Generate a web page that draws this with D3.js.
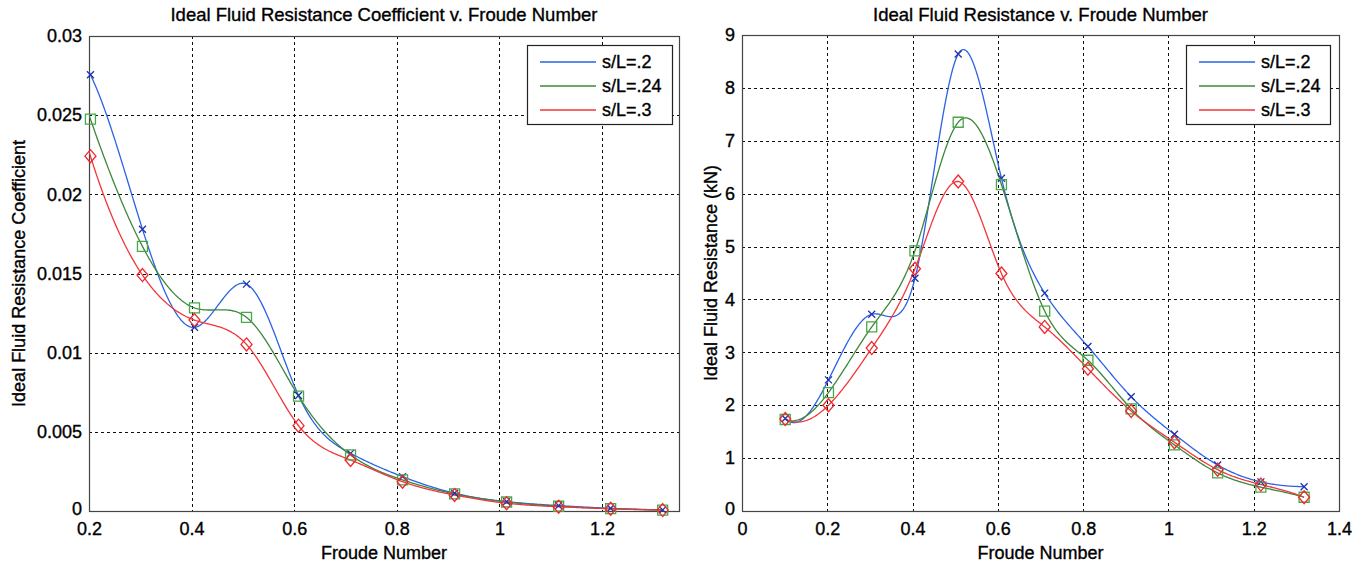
<!DOCTYPE html>
<html>
<head>
<meta charset="utf-8">
<script src="https://cdn.jsdelivr.net/npm/d3@7"></script>
<style>
  html, body { margin: 0; padding: 0; background: #fff; }
  svg { display: block; }
  text { font-family: "Liberation Sans", Arial, sans-serif; fill: #000; stroke: #000; stroke-width: 0.35px; }
</style>
</head>
<body>
<svg id="chart" width="1367" height="565"></svg>
<script>
// Froude numbers of the towing runs
const froudeCoef = [0.2028, 0.3042, 0.4056, 0.507, 0.6084, 0.7098, 0.8112, 0.9126, 1.014, 1.1154, 1.2168, 1.3182];
const froudeRes  = [0.1014, 0.2028, 0.3042, 0.4056, 0.507, 0.6084, 0.7098, 0.8112, 0.9126, 1.014, 1.1154, 1.2168, 1.3182];

// Ideal fluid resistance coefficient per spacing ratio
const coefS020 = [0.02755, 0.0178, 0.0116, 0.01433, 0.0073, 0.00364, 0.00217, 0.00112, 0.00059, 0.00034, 0.00017, 0.00007];
const coefS024 = [0.02475, 0.01671, 0.01283, 0.01223, 0.00726, 0.00354, 0.00196, 0.00108, 0.00057, 0.0003, 0.00015, 0.00006];
const coefS030 = [0.02241, 0.0149, 0.01206, 0.01052, 0.00539, 0.00322, 0.00185, 0.00101, 0.00049, 0.00027, 0.00014, 0.00006];

// Ideal fluid resistance (kN) per spacing ratio
const resS020 = [1.75, 2.48, 3.72, 4.40, 8.64, 6.29, 4.12, 3.11, 2.16, 1.45, 0.87, 0.55, 0.46];
const resS024 = [1.73, 2.24, 3.48, 4.92, 7.35, 6.17, 3.78, 2.85, 1.93, 1.25, 0.72, 0.45, 0.26];
const resS030 = [1.74, 2.00, 3.08, 4.58, 6.23, 4.49, 3.48, 2.69, 1.89, 1.30, 0.78, 0.50, 0.26];

const seriesNames = ["s/L=.2", "s/L=.24", "s/L=.3"];

// Axis ticks
const coefXTicks = [0.2, 0.4, 0.6, 0.8, 1, 1.2];
const coefYTicks = [0, 0.005, 0.01, 0.015, 0.02, 0.025, 0.03];
const resXTicks = [0, 0.2, 0.4, 0.6, 0.8, 1, 1.2, 1.4];
const resYTicks = [0, 1, 2, 3, 4, 5, 6, 7, 8, 9];

// Series styling: line colour, marker colour, marker shape
const styles = [
  { line: "#2b62e6", mark: "#1f33b0", shape: "x" },
  { line: "#3d873a", mark: "#48a848", shape: "square" },
  { line: "#f2353a", mark: "#f0282e", shape: "diamond" }
];

const FONT = 18;
const svg = d3.select("#chart");

// Not-a-knot cubic spline through (xs, ys)
function spline(xs, ys) {
  const n = xs.length;
  const h = [];
  for (let i = 0; i < n - 1; i++) h.push(xs[i + 1] - xs[i]);
  const A = Array.from({ length: n }, () => new Array(n).fill(0));
  const b = new Array(n).fill(0);
  A[0][0] = h[1]; A[0][1] = -(h[0] + h[1]); A[0][2] = h[0];
  for (let i = 1; i < n - 1; i++) {
    A[i][i - 1] = h[i - 1];
    A[i][i] = 2 * (h[i - 1] + h[i]);
    A[i][i + 1] = h[i];
    b[i] = 6 * ((ys[i + 1] - ys[i]) / h[i] - (ys[i] - ys[i - 1]) / h[i - 1]);
  }
  A[n - 1][n - 3] = h[n - 2]; A[n - 1][n - 2] = -(h[n - 3] + h[n - 2]); A[n - 1][n - 1] = h[n - 3];
  // Gaussian elimination with partial pivoting
  for (let c = 0; c < n; c++) {
    let p = c;
    for (let r = c + 1; r < n; r++) if (Math.abs(A[r][c]) > Math.abs(A[p][c])) p = r;
    [A[c], A[p]] = [A[p], A[c]]; [b[c], b[p]] = [b[p], b[c]];
    for (let r = c + 1; r < n; r++) {
      const f = A[r][c] / A[c][c];
      if (f === 0) continue;
      for (let k = c; k < n; k++) A[r][k] -= f * A[c][k];
      b[r] -= f * b[c];
    }
  }
  const M = new Array(n).fill(0);
  for (let r = n - 1; r >= 0; r--) {
    let s = b[r];
    for (let k = r + 1; k < n; k++) s -= A[r][k] * M[k];
    M[r] = s / A[r][r];
  }
  return function (x) {
    let i = 0;
    while (i < n - 2 && x > xs[i + 1]) i++;
    const hi = h[i], a = xs[i + 1] - x, d = x - xs[i];
    return M[i] * a * a * a / (6 * hi) + M[i + 1] * d * d * d / (6 * hi)
      + (ys[i] / hi - M[i] * hi / 6) * a + (ys[i + 1] / hi - M[i + 1] * hi / 6) * d;
  };
}

function markerPath(shape) {
  if (shape === "x") return "M-3.5,-3.5L3.5,3.5M-3.5,3.5L3.5,-3.5";
  if (shape === "square") return "M-5,-5H5V5H-5Z";
  return "M0,-6.5L5.5,0L0,6.5L-5.5,0Z";
}

function drawPanel(cfg) {
  const { left, right, top, bottom } = cfg.box;
  const x = d3.scaleLinear().domain(cfg.xDomain).range([left, right]);
  const y = d3.scaleLinear().domain(cfg.yDomain).range([bottom, top]);
  const g = svg.append("g");

  const clipId = "clip" + cfg.id;
  g.append("clipPath").attr("id", clipId)
    .append("rect").attr("x", left).attr("y", top)
    .attr("width", right - left).attr("height", bottom - top);

  // dashed grid
  const grid = g.append("g").attr("stroke", "#111").attr("stroke-width", 1)
    .attr("stroke-dasharray", "3,3");
  grid.selectAll(".gx").data(cfg.xTicks).join("line")
    .attr("x1", d => Math.round(x(d)) + 0.5).attr("x2", d => Math.round(x(d)) + 0.5)
    .attr("y1", top).attr("y2", bottom);
  grid.selectAll(".gy").data(cfg.yTicks).join("line")
    .attr("y1", d => Math.round(y(d)) + 0.5).attr("y2", d => Math.round(y(d)) + 0.5)
    .attr("x1", left).attr("x2", right);

  // axes
  const xAxis = d3.axisBottom(x).tickValues(cfg.xTicks).tickSize(0).tickPadding(11)
    .tickFormat(cfg.xFormat);
  const gx = g.append("g").attr("transform", `translate(0,${bottom})`).call(xAxis);
  gx.select(".domain").remove();
  gx.selectAll("text").attr("font-size", FONT).attr("font-family", "Liberation Sans, Arial, sans-serif");

  const yAxis = d3.axisLeft(y).tickValues(cfg.yTicks).tickSize(0).tickPadding(7)
    .tickFormat(cfg.yFormat);
  const gy = g.append("g").attr("transform", `translate(${left},0)`).call(yAxis);
  gy.select(".domain").remove();
  gy.selectAll("text").attr("font-size", FONT).attr("font-family", "Liberation Sans, Arial, sans-serif");
  // the bottom value label sits a little higher so it clears the x labels
  gy.selectAll(".tick").filter(d => d === 0).select("text").attr("dy", "0.2em");

  // frame
  g.append("rect").attr("x", left + 0.5).attr("y", top + 0.5)
    .attr("width", right - left).attr("height", bottom - top)
    .attr("fill", "none").attr("stroke", "#444").attr("stroke-width", 1.2);

  // interpolated curves and markers
  const line = d3.line().x(d => x(d[0])).y(d => y(d[1]));
  const plot = g.append("g").attr("clip-path", `url(#${clipId})`);
  cfg.series.forEach((ys, k) => {
    const f = spline(cfg.xs, ys);
    const x0 = cfg.curveFrom !== undefined ? cfg.curveFrom : cfg.xs[0];
    const x1 = cfg.xs[cfg.xs.length - 1];
    const pts = d3.range(0, 401).map(i => { const xv = x0 + (x1 - x0) * i / 400; return [xv, f(xv)]; });
    plot.append("path").datum(pts).attr("d", line)
      .attr("fill", "none").attr("stroke", styles[k].line).attr("stroke-width", 1.3);
  });
  cfg.series.forEach((ys, k) => {
    g.append("g").selectAll("path").data(ys).join("path")
      .attr("transform", (d, i) => `translate(${x(cfg.xs[i])},${y(d)})`)
      .attr("d", markerPath(styles[k].shape))
      .attr("fill", "none").attr("stroke", styles[k].mark).attr("stroke-width", 1.3);
  });

  // legend
  const lg = g.append("g");
  const L = cfg.legend;
  lg.append("rect").attr("x", L.x + 0.5).attr("y", L.y + 0.5).attr("width", L.w).attr("height", L.h)
    .attr("fill", "#fff").attr("stroke", "#222").attr("stroke-width", 1.2);
  seriesNames.forEach((name, k) => {
    const ry = L.y + 17 + k * 24;
    lg.append("line").attr("x1", L.x + 13).attr("x2", L.x + 69).attr("y1", ry).attr("y2", ry)
      .attr("stroke", styles[k].line).attr("stroke-width", 1.3);
    lg.append("text").attr("x", L.x + 75).attr("y", ry).attr("dy", "0.36em")
      .attr("font-size", FONT).text(name);
  });

  // titles
  g.append("text").attr("x", (left + right) / 2).attr("y", 21).attr("text-anchor", "middle")
    .attr("font-size", 18.5).text(cfg.title);
  g.append("text").attr("x", (left + right) / 2).attr("y", 559).attr("text-anchor", "middle")
    .attr("font-size", FONT).text("Froude Number");
  g.append("text").attr("transform", `translate(${cfg.yLabelX},${(top + bottom) / 2}) rotate(-90)`)
    .attr("text-anchor", "middle").attr("dy", "0.36em")
    .attr("font-size", FONT).text(cfg.yLabel);
}

drawPanel({
  id: "coef",
  box: { left: 89, right: 679, top: 36, bottom: 511 },
  xDomain: [0.2, 1.35], yDomain: [0, 0.03],
  xTicks: coefXTicks, yTicks: coefYTicks,
  xFormat: d3.format("~g"), yFormat: d => d === 0 ? "0" : d3.format("~g")(d),
  xs: froudeCoef, series: [coefS020, coefS024, coefS030],
  curveFrom: 0.2,
  legend: { x: 527, y: 45, w: 145, h: 79 },
  title: "Ideal Fluid Resistance Coefficient v. Froude Number",
  yLabel: "Ideal Fluid Resistance Coefficient", yLabelX: 19
});

drawPanel({
  id: "res",
  box: { left: 742, right: 1339, top: 35, bottom: 511 },
  xDomain: [0, 1.4], yDomain: [0, 9],
  xTicks: resXTicks, yTicks: resYTicks,
  xFormat: d3.format("~g"), yFormat: d3.format("~g"),
  xs: froudeRes, series: [resS020, resS024, resS030],
  legend: { x: 1186, y: 45, w: 144, h: 79 },
  title: "Ideal Fluid Resistance v. Froude Number",
  yLabel: "Ideal Fluid Resistance (kN)", yLabelX: 711
});
</script>
</body>
</html>
